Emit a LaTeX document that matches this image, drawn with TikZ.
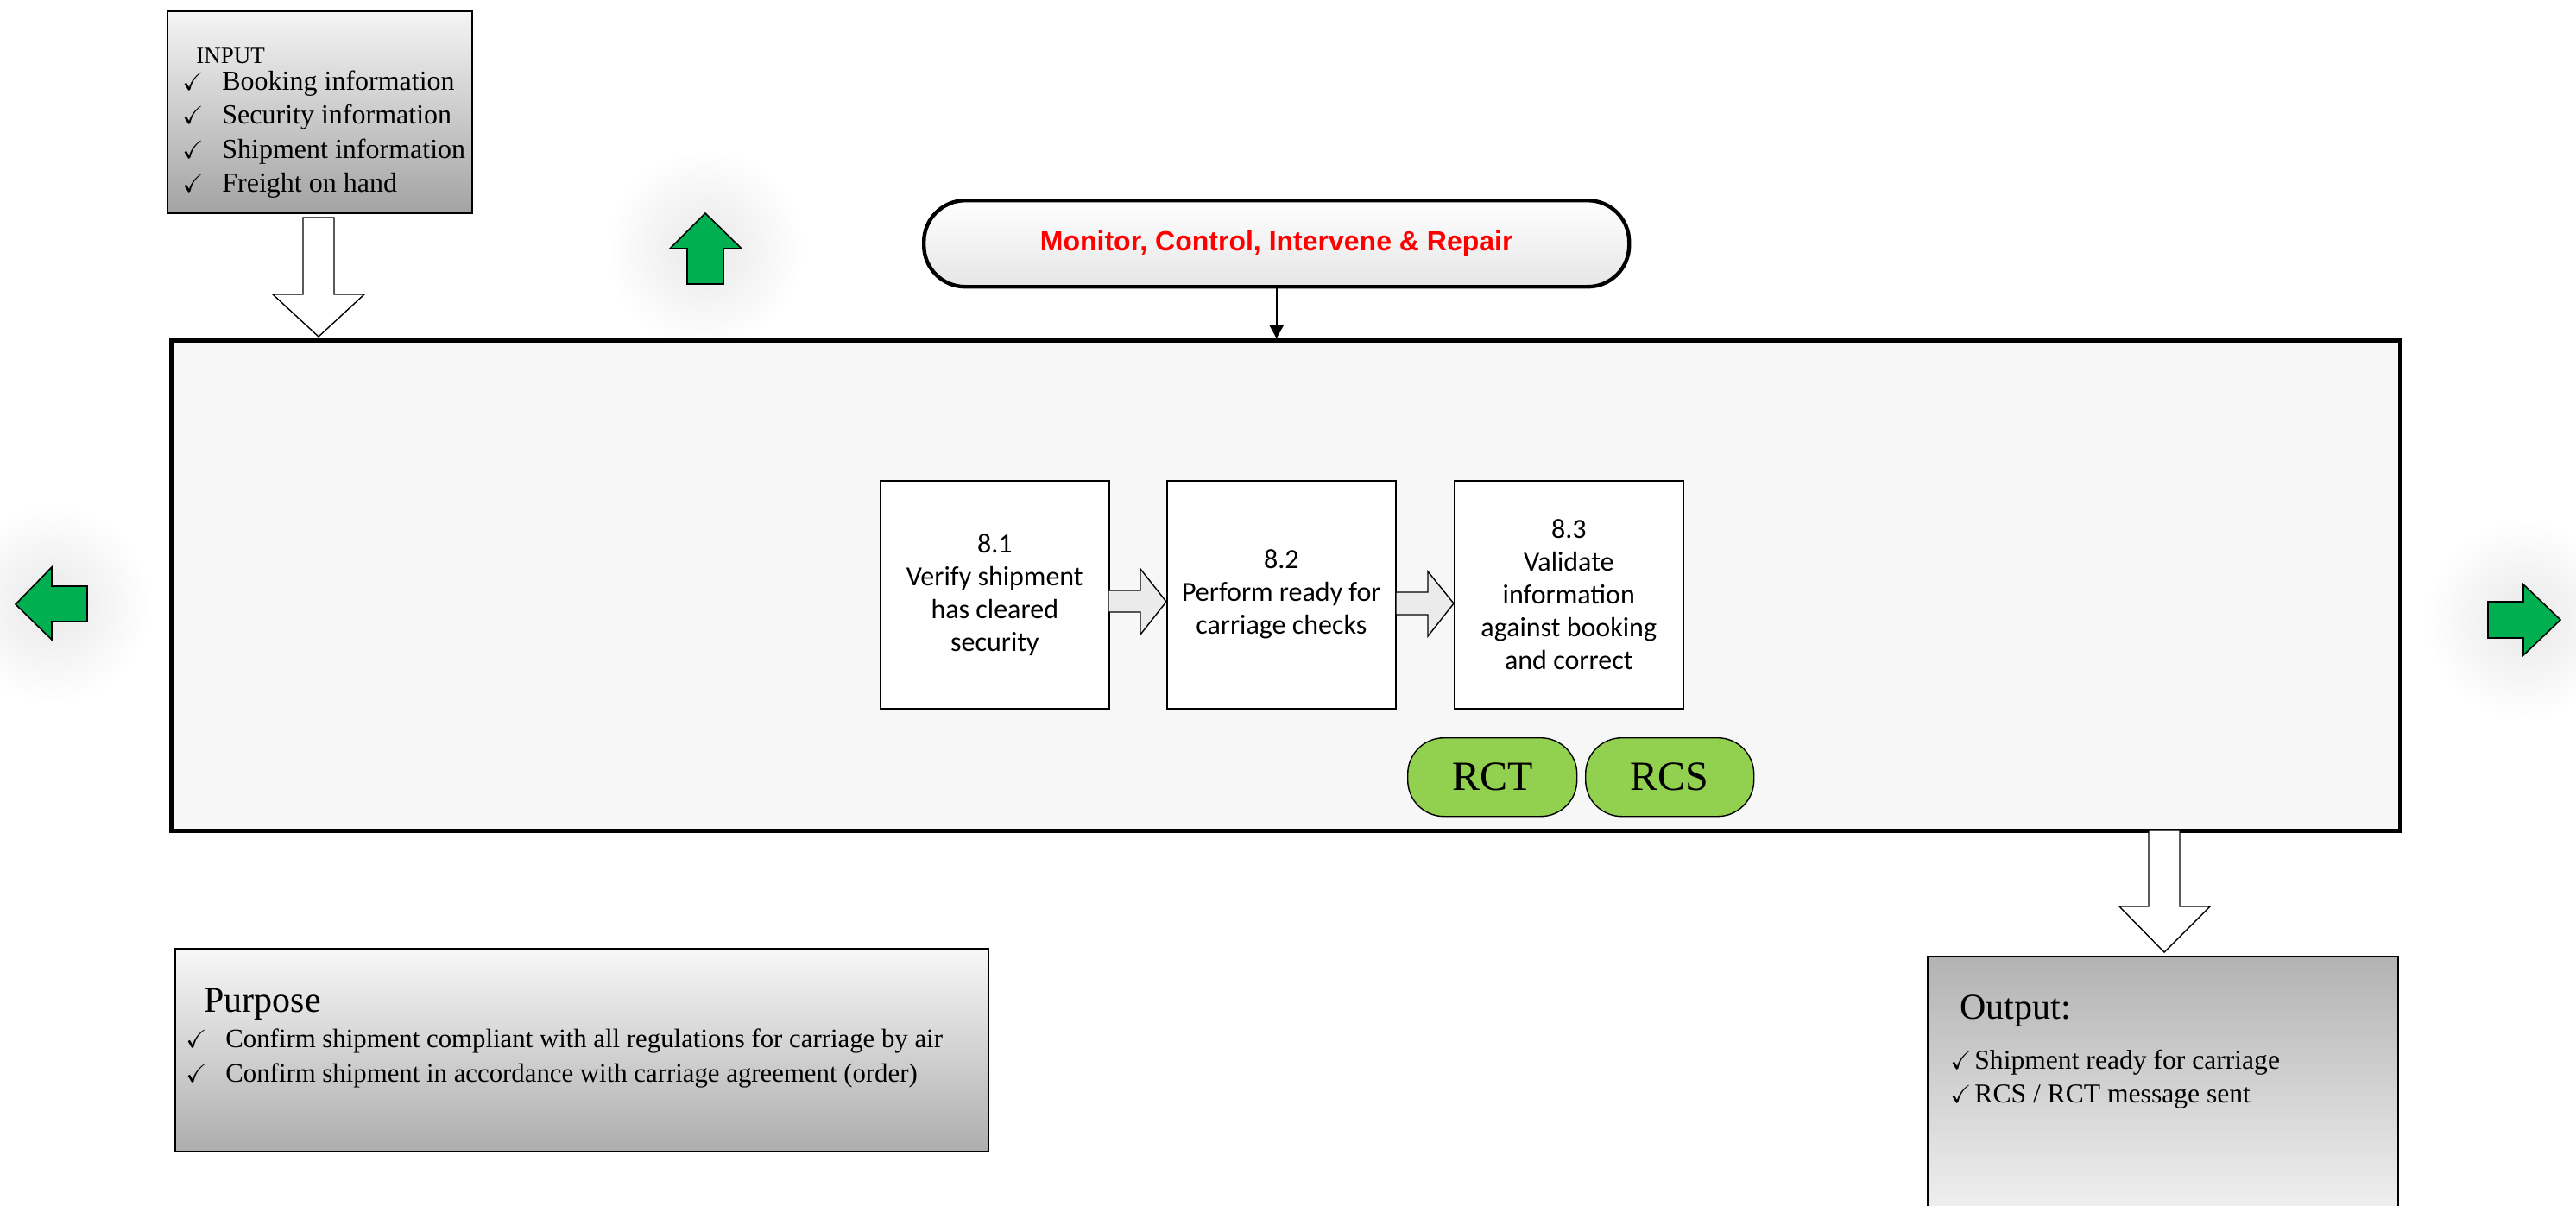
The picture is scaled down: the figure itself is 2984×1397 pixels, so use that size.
\documentclass[tikz,border=0pt]{standalone}
\usepackage{fontspec}
\usepackage{amssymb}
\setmainfont{Liberation Serif}
\newfontfamily\calib{Carlito}
\newfontfamily\arialf{Liberation Sans}
\usetikzlibrary{arrows.meta,calc}
\definecolor{greenA}{HTML}{00B050}
\definecolor{greenB}{HTML}{92D050}
\definecolor{mainfill}{HTML}{F7F7F7}
\definecolor{redT}{HTML}{FF0000}
\tikzset{
 graybox/.style={draw=black, line width=0.8pt, inner sep=0pt, anchor=north west},
 procbox/.style={draw=black, line width=0.8pt, fill=white, inner sep=0pt, anchor=north west,
   minimum width=132.5pt, minimum height=132pt, align=center, font=\calib\fontsize{16}{19}\selectfont},
 pill/.style={draw=black, line width=0.7pt, fill=greenB, rounded corners=21pt, anchor=north west,
   minimum height=45.5pt, inner sep=0pt, font=\fontsize{24}{28}\selectfont},
 garrow/.style={draw=black, line width=0.8pt, fill=greenA, line join=miter},
 hollow/.style={draw=black, line width=0.7pt, fill=white, line join=miter},
 glow/.style={inner color=black!9, outer color=white},
 txt/.style={anchor=base west, inner sep=0pt},
 chk/.style={anchor=base west, inner sep=0pt, font=\fontsize{14.5}{16}\selectfont},
}
\begin{document}
\begin{tikzpicture}[x=0.5pt,y=-0.5pt]
\useasboundingbox (0,0) rectangle (2984,1397);
\fill[white] (0,0) rectangle (2984,1397);

% glows behind green arrows
\shade[glow] (817,288) circle (115);
\shade[glow] (60,700) circle (115);
\shade[glow] (2924,718) circle (115);

% INPUT box
\node[graybox, top color=black!4, bottom color=black!36, minimum width=176.5pt, minimum height=117pt] (input) at (193,12) {};
\node[txt, font=\fontsize{13.5}{15}\selectfont] (inTitle) at (227,73) {INPUT};
\node[chk] (ic1) at (211,104) {$\checkmark$};
\node[chk] (ic2) at (211,143) {$\checkmark$};
\node[chk] (ic3) at (211,183) {$\checkmark$};
\node[chk] (ic4) at (211,222) {$\checkmark$};
\node[txt, font=\fontsize{16}{19}\selectfont] (in1) at (257,104) {Booking information};
\node[txt, font=\fontsize{16}{19}\selectfont] (in2) at (257,143) {Security information};
\node[txt, font=\fontsize{16}{19}\selectfont] (in3) at (257,183) {Shipment information};
\node[txt, font=\fontsize{16}{19}\selectfont] (in4) at (257,222) {Freight on hand};

% Input block arrow
\draw[hollow] (351,252) -- (387,252) -- (387,341) -- (422,341) -- (369,390) -- (316,341) -- (351,341) -- cycle;

% green arrows
\draw[garrow] (817,247) -- (859,288) -- (838,288) -- (838,329) -- (796,329) -- (796,288) -- (776,288) -- cycle;
\draw[garrow] (18,700) -- (60,657) -- (60,679) -- (101,679) -- (101,720) -- (60,720) -- (60,741) -- cycle;
\draw[garrow] (2966,718) -- (2923,677) -- (2923,697) -- (2882,697) -- (2882,739) -- (2923,739) -- (2923,759) -- cycle;

% Monitor
\node[draw=black, line width=2.2pt, top color=white, bottom color=black!10, rounded corners=24pt,
  minimum width=408.5pt, minimum height=50pt, inner sep=0pt, anchor=north west,
  font=\arialf\bfseries\fontsize{16}{19}\selectfont, text=redT] (monitor) at (1068,230)
  {Monitor, Control, Intervene \& Repair};

% Main box
\node[graybox, fill=mainfill, line width=2.6pt, minimum width=1291pt, minimum height=284pt] (main) at (196,392) {};

\draw[line width=0.8pt, -{Triangle[width=8pt,length=7.5pt]}] (monitor.south) -- (monitor.south |- main.north);

% Process boxes
\node[procbox] (p1) at (1019,556) {8.1\\Verify shipment\\has cleared\\security};
\node[procbox] (p2) at (1351,556) {8.2\\Perform ready for\\carriage checks};
\node[procbox] (p3) at (1684,556) {8.3\\Validate\\information\\against booking\\and correct};

% hollow arrows between boxes
\draw[hollow, fill=black!8] (1284,684) -- (1321,684) -- (1321,659) -- (1351,697) -- (1321,735) -- (1321,709) -- (1284,709) -- cycle;
\draw[hollow, fill=black!8] (1617,686) -- (1654,686) -- (1654,662) -- (1684,699) -- (1654,737) -- (1654,712) -- (1617,712) -- cycle;

% RCT / RCS
\node[pill, minimum width=98pt] (rct) at (1630,854) {RCT};
\node[pill, minimum width=97.5pt] (rcs) at (1836,854) {RCS};

% Output arrow
\draw[hollow] (2489,962) -- (2525,962) -- (2525,1050) -- (2560,1050) -- (2507,1103) -- (2455,1050) -- (2489,1050) -- cycle;

% Output box
\node[graybox, top color=black!30, bottom color=black!3, minimum width=272.5pt, minimum height=165pt] (output) at (2232,1107) {};
\node[txt, font=\fontsize{21}{24}\selectfont] (outTitle) at (2270,1180) {Output:};
\node[chk] (oc1) at (2259,1238) {$\checkmark$};
\node[chk] (oc2) at (2259,1277) {$\checkmark$};
\node[txt, font=\fontsize{15.8}{18}\selectfont] (out1) at (2287,1238) {Shipment ready for carriage};
\node[txt, font=\fontsize{15.8}{18}\selectfont] (out2) at (2287,1277) {RCS / RCT message sent};

% Purpose box
\node[graybox, top color=black!3, bottom color=black!32, minimum width=471pt, minimum height=117.5pt] (purpose) at (202,1098) {};
\node[txt, font=\fontsize{21}{24}\selectfont] (purTitle) at (236,1172) {Purpose};
\node[chk] (pc1) at (215,1213) {$\checkmark$};
\node[chk] (pc2) at (215,1253) {$\checkmark$};
\node[txt, font=\fontsize{15.4}{18}\selectfont] (pur1) at (261,1213) {Confirm shipment compliant with all regulations for carriage by air};
\node[txt, font=\fontsize{15.4}{18}\selectfont] (pur2) at (261,1253) {Confirm shipment in accordance with carriage agreement (order)};
\end{tikzpicture}
\end{document}
